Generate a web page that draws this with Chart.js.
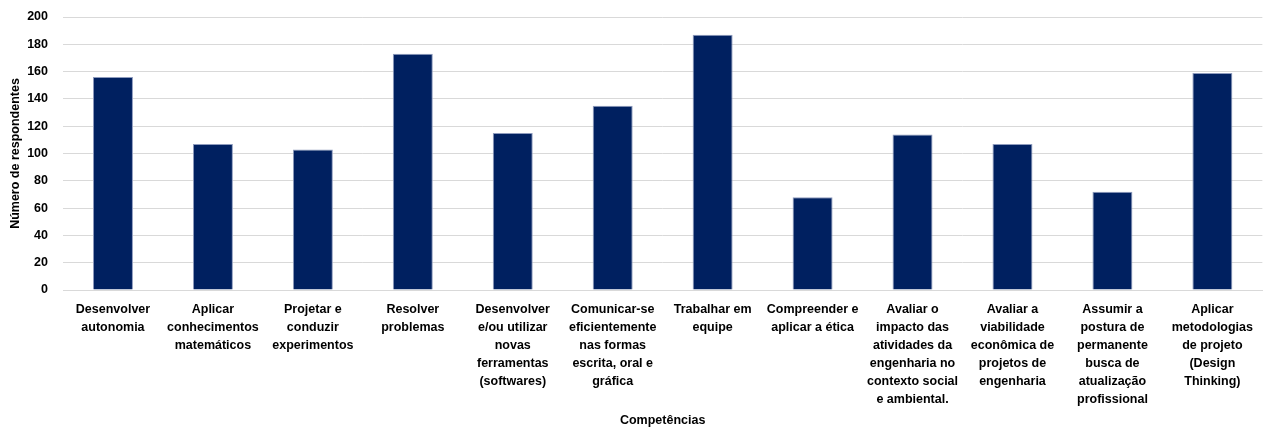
<!DOCTYPE html>
<html lang="pt">
<head>
    <meta charset="UTF-8">
    <title>Competências</title>
    <script src="https://cdn.jsdelivr.net/npm/chart.js@4.4.1/dist/chart.umd.min.js"></script>
    <style>
        html, body { margin: 0; padding: 0; background: #fff; }
        #wrap { width: 1263px; height: 428px; position: relative; }
    </style>
</head>
<body>
    <div id="wrap"><canvas id="chart"></canvas></div>
    <script>
        const competencias = [
            ['Desenvolver', 'autonomia'],
            ['Aplicar', 'conhecimentos', 'matemáticos'],
            ['Projetar e', 'conduzir', 'experimentos'],
            ['Resolver', 'problemas'],
            ['Desenvolver', 'e/ou utilizar', 'novas', 'ferramentas', '(softwares)'],
            ['Comunicar-se', 'eficientemente', 'nas formas', 'escrita, oral e', 'gráfica'],
            ['Trabalhar em', 'equipe'],
            ['Compreender e', 'aplicar a ética'],
            ['Avaliar o', 'impacto das', 'atividades da', 'engenharia no', 'contexto social', 'e ambiental.'],
            ['Avaliar a', 'viabilidade', 'econômica de', 'projetos de', 'engenharia'],
            ['Assumir a', 'postura de', 'permanente', 'busca de', 'atualização', 'profissional'],
            ['Aplicar', 'metodologias', 'de projeto', '(Design', 'Thinking)']
        ];
        const respondentes = [156, 107, 103, 173, 115, 135, 187, 68, 114, 107, 72, 159];

        const fontFamily = '"Liberation Sans", Arial, sans-serif';

        new Chart(document.getElementById('chart'), {
            type: 'bar',
            data: {
                labels: competencias,
                datasets: [{
                    label: 'Número de respondentes',
                    data: respondentes,
                    backgroundColor: '#002060',
                    borderColor: '#8e9bbd',
                    borderWidth: 1,
                    barPercentage: 0.4,
                    categoryPercentage: 1
                }]
            },
            options: {
                responsive: true,
                maintainAspectRatio: false,
                animation: false,
                layout: { padding: { top: 0, right: 0, left: 0, bottom: 0 } },
                plugins: {
                    legend: { display: false },
                    tooltip: { enabled: false }
                },
                scales: {
                    x: {
                        grid: { display: false, drawTicks: false },
                        border: { color: '#d9d9d9', width: 1 },
                        ticks: {
                            autoSkip: false,
                            maxRotation: 0,
                            minRotation: 0,
                            padding: 10,
                            color: '#000',
                            font: { family: fontFamily, size: 12.5, weight: 'bold', lineHeight: 1.45 }
                        },
                        title: {
                            display: true,
                            text: 'Competências',
                            color: '#000',
                            padding: { top: 4, bottom: 0 },
                            font: { family: fontFamily, size: 12.5, weight: 'bold' }
                        },
                        afterFit: (scale) => {
                            scale.height = 138;
                            scale.paddingTop = 0;
                            scale.paddingBottom = 0;
                        }
                    },
                    y: {
                        min: 0,
                        max: 200,
                        grid: { color: '#d9d9d9', drawTicks: false },
                        border: { display: false },
                        ticks: {
                            stepSize: 20,
                            padding: 15,
                            color: '#000',
                            font: { family: fontFamily, size: 12.5, weight: 'bold' }
                        },
                        title: {
                            display: true,
                            text: 'Número de respondentes',
                            color: '#000',
                            padding: { top: 8, bottom: 0 },
                            font: { family: fontFamily, size: 12.5, weight: 'bold' }
                        },
                        afterFit: (scale) => {
                            scale.width = 63;
                            scale.paddingTop = 17;
                            scale.paddingBottom = 0;
                        }
                    }
                }
            }
        });
    </script>
</body>
</html>
